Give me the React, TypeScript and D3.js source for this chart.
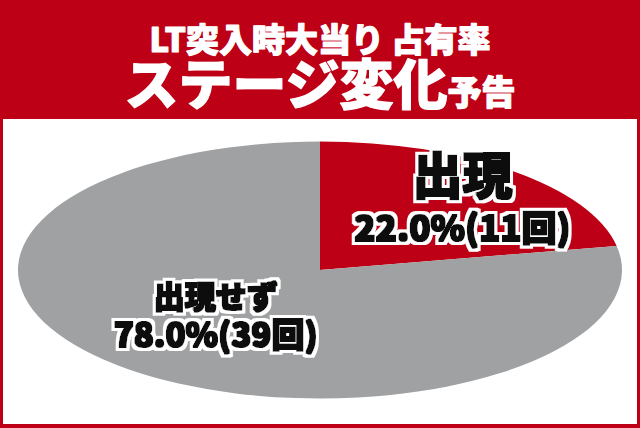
import React from 'react';
import * as d3 from 'd3';

// 出現 / 出現せず
const categories = ['出現', '出現せず'];
const counts = [11, 39];
const percents = [22.0, 78.0];
const titleLine1 = 'LT突入時大当り 占有率';
const titleMain = 'ステージ変化';
const titleSub = '予告';

const W = 640;
const H = 428;
const RED = '#be0016';
const GRAY = '#9fa1a2';
const FONT = '"Noto Sans CJK JP", "Noto Sans", sans-serif';

const cx = 320;
const cy = 270;
const rx = 302;
const ry = 128.5;

const sliceColors = [RED, GRAY];
// label distance from centre as a fraction of the radius, per slice
const labelR = [0.74, 0.49];
const labelShift = [
    { x: 0, nameY: -3, valY: 44 },
    { x: -10, nameY: -11, valY: 28 },
];
const labelFont = [
    { name: 50, value: 35 },
    { name: 31, value: 33 },
];

const App: React.FC = () => {
    const rows = categories.map((c, i) => ({ name: c, count: counts[i], pct: percents[i] }));
    const pie = d3.pie<typeof rows[number]>().sort(null).value(d => d.count);
    const arcs = pie(rows);
    const arc = d3.arc<d3.PieArcDatum<typeof rows[number]>>().innerRadius(0).outerRadius(ry);

    const headStyle = (size: number) => ({
        fontFamily: FONT,
        fontWeight: 900,
        fontSize: `${size}px`,
        fill: '#fff',
        stroke: '#fff',
        strokeWidth: 1.2,
        strokeLinejoin: 'round' as const,
    });

    const labelStyle = (size: number) => ({
        fontFamily: FONT,
        fontWeight: 900,
        fontSize: `${size}px`,
        fill: '#111',
    });

    return (
        <svg width={W} height={H} viewBox={`0 0 ${W} ${H}`}
            style={{ position: 'absolute', left: 0, top: 0, display: 'block' }}>
            <defs>
                {/* thicken the glyphs a little and put a white outline around them */}
                <filter id="outline" x="-10%" y="-20%" width="120%" height="140%">
                    <feMorphology in="SourceAlpha" operator="dilate" radius="0.7" result="thick" />
                    <feFlood floodColor="#111" />
                    <feComposite in2="thick" operator="in" result="ink" />
                    <feMorphology in="SourceAlpha" operator="dilate" radius="3.6" result="wide" />
                    <feFlood floodColor="#fff" />
                    <feComposite in2="wide" operator="in" result="halo" />
                    <feMerge>
                        <feMergeNode in="halo" />
                        <feMergeNode in="ink" />
                    </feMerge>
                </filter>
            </defs>

            <rect x={0} y={0} width={W} height={H} fill={RED} />
            <rect x={3} y={119} width={W - 6} height={H - 119 - 4} fill="#fff" />

            <text x={320} y={52} textAnchor="middle" style={headStyle(33)}>
                {titleLine1}
            </text>
            <text x={320} y={105} textAnchor="middle" style={headStyle(54)}>
                {titleMain}
                <tspan style={{ fontSize: '34px' }}>{titleSub}</tspan>
            </text>

            <g transform={`translate(${cx},${cy}) scale(${rx / ry},1)`}>
                {arcs.map((a, i) => (
                    <path key={i} d={arc(a) || ''} fill={sliceColors[i]} />
                ))}
            </g>

            {arcs.map((a, i) => {
                const mid = (a.startAngle + a.endAngle) / 2;
                const lx = cx + Math.sin(mid) * rx * labelR[i] + labelShift[i].x;
                const ly = cy - Math.cos(mid) * ry * labelR[i];
                const f = labelFont[i];
                return (
                    <g key={`l${i}`} filter="url(#outline)">
                        <text x={lx} y={ly + labelShift[i].nameY} textAnchor="middle" style={labelStyle(f.name)}>
                            {a.data.name}
                        </text>
                        <text x={lx} y={ly + labelShift[i].valY} textAnchor="middle" style={labelStyle(f.value)}>
                            {`${a.data.pct.toFixed(1)}%(${a.data.count}回)`}
                        </text>
                    </g>
                );
            })}
        </svg>
    );
};

export default App;
